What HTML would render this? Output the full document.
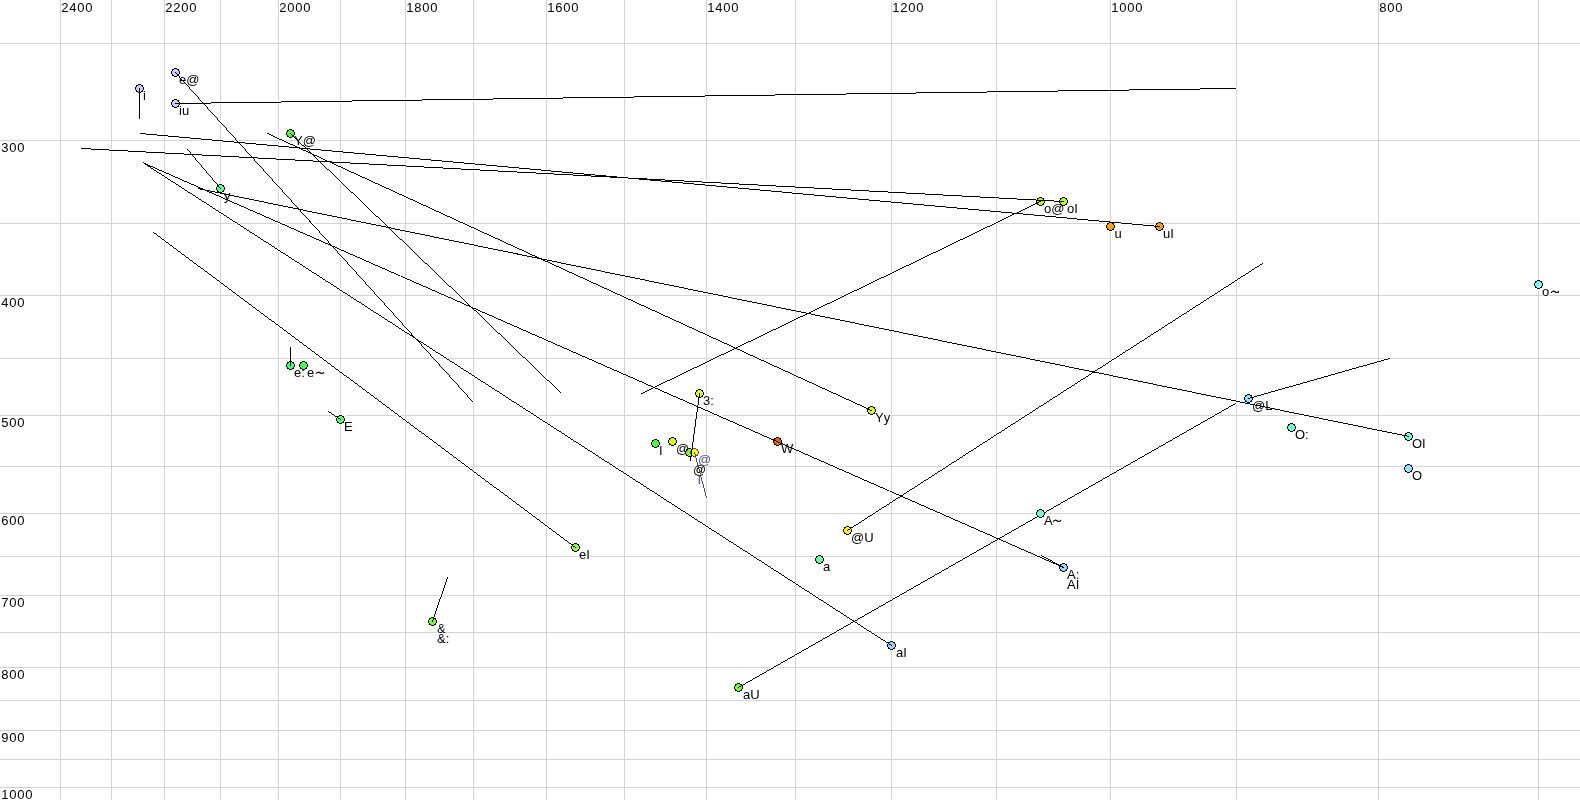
<!DOCTYPE html><html><head><meta charset="utf-8"><style>html,body{margin:0;padding:0;background:#fff;width:1580px;height:800px;overflow:hidden}svg{display:block}text{font-family:"Liberation Sans", sans-serif;font-size:13px}.ax{font-size:13px;letter-spacing:0.77px}.h text{fill:#fff;stroke:#fff;stroke-width:2px;stroke-linejoin:round}.lb{stroke-width:0px}</style></head><body>
<svg width="1580" height="800" viewBox="0 0 1580 800">
<rect width="1580" height="800" fill="#fff"/>
<defs><filter id="nof" x="0" y="0" width="1" height="1"><feOffset dx="0" dy="0"/></filter><path id="cf" d="M3 1h3v1h1v1h1v3h-1v1h-1v1h-3v-1h-1v-1h-1v-3h1v-1h1z"/><path id="co" d="M3 0h3v1h-3z M1 1h2v1h-2z M6 1h2v1h-2z M1 2h1v1h-1z M7 2h1v1h-1z M0 3h1v3h-1z M8 3h1v3h-1z M1 6h1v1h-1z M7 6h1v1h-1z M1 7h2v1h-2z M6 7h2v1h-2z M3 8h3v1h-3z"/></defs>
<g fill="#d3d3d3" shape-rendering="crispEdges">
<rect x="60" y="0" width="1" height="800"/>
<rect x="111" y="0" width="1" height="800"/>
<rect x="164" y="0" width="1" height="800"/>
<rect x="220" y="0" width="1" height="800"/>
<rect x="278" y="0" width="1" height="800"/>
<rect x="340" y="0" width="1" height="800"/>
<rect x="405" y="0" width="1" height="800"/>
<rect x="473" y="0" width="1" height="800"/>
<rect x="546" y="0" width="1" height="800"/>
<rect x="624" y="0" width="1" height="800"/>
<rect x="706" y="0" width="1" height="800"/>
<rect x="795" y="0" width="1" height="800"/>
<rect x="891" y="0" width="1" height="800"/>
<rect x="996" y="0" width="1" height="800"/>
<rect x="1110" y="0" width="1" height="800"/>
<rect x="1236" y="0" width="1" height="800"/>
<rect x="1378" y="0" width="1" height="800"/>
<rect x="1538" y="0" width="1" height="800"/>
<rect x="0" y="43" width="1580" height="1"/>
<rect x="0" y="140" width="1580" height="1"/>
<rect x="0" y="223" width="1580" height="1"/>
<rect x="0" y="295" width="1580" height="1"/>
<rect x="0" y="358" width="1580" height="1"/>
<rect x="0" y="415" width="1580" height="1"/>
<rect x="0" y="466" width="1580" height="1"/>
<rect x="0" y="513" width="1580" height="1"/>
<rect x="0" y="556" width="1580" height="1"/>
<rect x="0" y="595" width="1580" height="1"/>
<rect x="0" y="632" width="1580" height="1"/>
<rect x="0" y="667" width="1580" height="1"/>
<rect x="0" y="700" width="1580" height="1"/>
<rect x="0" y="730" width="1580" height="1"/>
<rect x="0" y="759" width="1580" height="1"/>
<rect x="0" y="787" width="1580" height="1"/>
</g>
<g class="h" filter="url(#nof)">
<g stroke="#fff" stroke-width="3" shape-rendering="crispEdges" stroke-linecap="square">
<line x1="139.5" y1="88.5" x2="139.5" y2="118.5" stroke="#fff" stroke-width="3" stroke-linecap="square"/>
<line x1="175.5" y1="72.5" x2="472.5" y2="401.5" stroke="#fff" stroke-width="3" stroke-linecap="square"/>
<line x1="175.5" y1="103.5" x2="1235.5" y2="88.5" stroke="#fff" stroke-width="3" stroke-linecap="square"/>
<line x1="140.5" y1="133.5" x2="1159.5" y2="226.5" stroke="#fff" stroke-width="3" stroke-linecap="square"/>
<line x1="81.5" y1="148.5" x2="1063.5" y2="201.5" stroke="#fff" stroke-width="3" stroke-linecap="square"/>
<line x1="187.5" y1="149.5" x2="220.5" y2="188.5" stroke="#fff" stroke-width="3" stroke-linecap="square"/>
<line x1="143.5" y1="163.0" x2="1063.5" y2="567.5" stroke="#fff" stroke-width="3" stroke-linecap="square"/>
<line x1="143.5" y1="163.0" x2="891.5" y2="645.5" stroke="#fff" stroke-width="3" stroke-linecap="square"/>
<line x1="198.5" y1="188.7" x2="1408.5" y2="436.4" stroke="#fff" stroke-width="3" stroke-linecap="square"/>
<line x1="153.5" y1="232.4" x2="575.5" y2="547.5" stroke="#fff" stroke-width="3" stroke-linecap="square"/>
<line x1="267.5" y1="133.5" x2="871.5" y2="410.5" stroke="#fff" stroke-width="3" stroke-linecap="square"/>
<line x1="290.5" y1="133.5" x2="560.5" y2="392.5" stroke="#fff" stroke-width="3" stroke-linecap="square"/>
<line x1="290.5" y1="365.5" x2="290.5" y2="347.5" stroke="#fff" stroke-width="3" stroke-linecap="square"/>
<line x1="340.5" y1="419.5" x2="328.5" y2="411.5" stroke="#fff" stroke-width="3" stroke-linecap="square"/>
<line x1="432.5" y1="621.5" x2="447.5" y2="577.5" stroke="#fff" stroke-width="3" stroke-linecap="square"/>
<line x1="699.5" y1="393.5" x2="690.5" y2="460.5" stroke="#fff" stroke-width="3" stroke-linecap="square"/>
<line x1="641.5" y1="393.5" x2="1040.5" y2="201.5" stroke="#fff" stroke-width="3" stroke-linecap="square"/>
<line x1="847.5" y1="530.5" x2="1262.5" y2="263.5" stroke="#fff" stroke-width="3" stroke-linecap="square"/>
<line x1="738.5" y1="687.5" x2="1235.5" y2="403.5" stroke="#fff" stroke-width="3" stroke-linecap="square"/>
<line x1="1248.5" y1="398.5" x2="1389.5" y2="358.5" stroke="#fff" stroke-width="3" stroke-linecap="square"/>
<line x1="1041.5" y1="555.5" x2="1063.5" y2="567.5" stroke="#fff" stroke-width="3" stroke-linecap="square"/>
<line x1="694.5" y1="452.5" x2="706.5" y2="497.5" stroke="#fff" stroke-width="3" stroke-linecap="square"/>
</g>
<g fill="#fff" shape-rendering="crispEdges">
<rect x="134" y="83" width="11" height="11" rx="3"/>
<rect x="170" y="67" width="11" height="11" rx="3"/>
<rect x="170" y="98" width="11" height="11" rx="3"/>
<rect x="285" y="128" width="11" height="11" rx="3"/>
<rect x="215" y="183" width="11" height="11" rx="3"/>
<rect x="285" y="360" width="11" height="11" rx="3"/>
<rect x="298" y="360" width="11" height="11" rx="3"/>
<rect x="335" y="414" width="11" height="11" rx="3"/>
<rect x="570" y="542" width="11" height="11" rx="3"/>
<rect x="427" y="616" width="11" height="11" rx="3"/>
<rect x="650" y="438" width="11" height="11" rx="3"/>
<rect x="667" y="436" width="11" height="11" rx="3"/>
<rect x="694" y="388" width="11" height="11" rx="3"/>
<rect x="772" y="436" width="11" height="11" rx="3"/>
<rect x="866" y="405" width="11" height="11" rx="3"/>
<rect x="842" y="525" width="11" height="11" rx="3"/>
<rect x="814" y="554" width="11" height="11" rx="3"/>
<rect x="886" y="640" width="11" height="11" rx="3"/>
<rect x="733" y="682" width="11" height="11" rx="3"/>
<rect x="1035" y="196" width="11" height="11" rx="3"/>
<rect x="1058" y="196" width="11" height="11" rx="3"/>
<rect x="1105" y="221" width="11" height="11" rx="3"/>
<rect x="1154" y="221" width="11" height="11" rx="3"/>
<rect x="1058" y="562" width="11" height="11" rx="3"/>
<rect x="1243" y="393" width="11" height="11" rx="3"/>
<rect x="1286" y="422" width="11" height="11" rx="3"/>
<rect x="1403" y="431" width="11" height="11" rx="3"/>
<rect x="1403" y="463" width="11" height="11" rx="3"/>
<rect x="1533" y="279" width="11" height="11" rx="3"/>
<rect x="684" y="447" width="11" height="11" rx="3"/>
<rect x="689" y="447" width="11" height="11" rx="3"/>
<rect x="1035" y="508" width="11" height="11" rx="3"/>
</g>
<text x="143.0" y="100">i</text>
<text x="179.0" y="84">e@</text>
<text x="179.0" y="115">iu</text>
<text x="294.0" y="145">Y@</text>
<text x="224.0" y="200">y</text>
<text x="294.0" y="377">e:</text>
<text x="307.0" y="377">e</text><path d="M316.40 373.50 C317.10 372.00 318.70 371.80 320.00 372.70 S322.80 374.20 323.70 372.30" fill="none" stroke="#fff" stroke-width="3.2" stroke-linecap="round"/>
<text x="344.0" y="431">E</text>
<text x="579.0" y="559">eI</text>
<text x="437.0" y="633">&amp;</text>
<text x="659.0" y="455">I</text>
<text x="676.0" y="453">@</text>
<text x="703.0" y="405">3:</text>
<text x="781.0" y="453">W</text>
<text x="875.0" y="422">Yy</text>
<text x="851.0" y="542">@U</text>
<text x="823.0" y="571">a</text>
<text x="896.0" y="657">aI</text>
<text x="743.0" y="699">aU</text>
<text x="1044.0" y="213">o@</text>
<text x="1067.0" y="213">oI</text>
<text x="1114.5" y="238">u</text>
<text x="1163.0" y="238">uI</text>
<text x="1067.0" y="579">A:</text>
<text x="1252.0" y="410">@L</text>
<text x="1295.0" y="439">O:</text>
<text x="1412.0" y="448">OI</text>
<text x="1412.0" y="480">O</text>
<text x="1542.0" y="296">o</text><path d="M1551.40 292.50 C1552.10 291.00 1553.70 290.80 1555.00 291.70 S1557.80 293.20 1558.70 291.30" fill="none" stroke="#fff" stroke-width="3.2" stroke-linecap="round"/>
<text x="693.0" y="474">@</text>
<text x="437.0" y="643">&amp;:</text>
<text x="1067.0" y="589">AI</text>
<text x="1044.0" y="525">A</text><path d="M1053.40 521.50 C1054.10 520.00 1055.70 519.80 1057.00 520.70 S1059.80 522.20 1060.70 520.30" fill="none" stroke="#fff" stroke-width="3.2" stroke-linecap="round"/>
<text x="698.0" y="464">@</text>
<text x="697.5" y="484">I</text>
</g>
<g shape-rendering="crispEdges">
<g transform="translate(135 84)"><use href="#cf" fill="#d2c8fa"/><use href="#co" fill="#000"/></g>
<g transform="translate(171 68)"><use href="#cf" fill="#d2c8fa"/><use href="#co" fill="#000"/></g>
<g transform="translate(171 99)"><use href="#cf" fill="#d2c8fa"/><use href="#co" fill="#000"/></g>
<g transform="translate(286 129)"><use href="#cf" fill="#50ff3c"/><use href="#co" fill="#000"/></g>
<g transform="translate(216 184)"><use href="#cf" fill="#5cff98"/><use href="#co" fill="#000"/></g>
<g transform="translate(286 361)"><use href="#cf" fill="#50fa78"/><use href="#co" fill="#000"/></g>
<g transform="translate(299 361)"><use href="#cf" fill="#46ff55"/><use href="#co" fill="#000"/></g>
<g transform="translate(336 415)"><use href="#cf" fill="#55ff73"/><use href="#co" fill="#000"/></g>
<g transform="translate(571 543)"><use href="#cf" fill="#94ff28"/><use href="#co" fill="#000"/></g>
<g transform="translate(428 617)"><use href="#cf" fill="#7dff2d"/><use href="#co" fill="#000"/></g>
<g transform="translate(651 439)"><use href="#cf" fill="#4bff41"/><use href="#co" fill="#000"/></g>
<g transform="translate(668 437)"><use href="#cf" fill="#d2ff14"/><use href="#co" fill="#000"/></g>
<g transform="translate(695 389)"><use href="#cf" fill="#ebff0a"/><use href="#co" fill="#000"/></g>
<g transform="translate(773 437)"><use href="#cf" fill="#e46600"/><use href="#co" fill="#000"/></g>
<g transform="translate(867 406)"><use href="#cf" fill="#d4ff14"/><use href="#co" fill="#000"/></g>
<g transform="translate(843 526)"><use href="#cf" fill="#fffa00"/><use href="#co" fill="#000"/></g>
<g transform="translate(815 555)"><use href="#cf" fill="#62ffa0"/><use href="#co" fill="#000"/></g>
<g transform="translate(887 641)"><use href="#cf" fill="#9bcdff"/><use href="#co" fill="#000"/></g>
<g transform="translate(734 683)"><use href="#cf" fill="#6cff32"/><use href="#co" fill="#000"/></g>
<g transform="translate(1036 197)"><use href="#cf" fill="#b4ff19"/><use href="#co" fill="#000"/></g>
<g transform="translate(1059 197)"><use href="#cf" fill="#b4ff19"/><use href="#co" fill="#000"/></g>
<g transform="translate(1106 222)"><use href="#cf" fill="#f5a500"/><use href="#co" fill="#000"/></g>
<g transform="translate(1155 222)"><use href="#cf" fill="#f5a500"/><use href="#co" fill="#000"/></g>
<g transform="translate(1059 563)"><use href="#cf" fill="#96d7ff"/><use href="#co" fill="#000"/></g>
<g transform="translate(1244 394)"><use href="#cf" fill="#91dcff"/><use href="#co" fill="#000"/></g>
<g transform="translate(1287 423)"><use href="#cf" fill="#6effd7"/><use href="#co" fill="#000"/></g>
<g transform="translate(1404 432)"><use href="#cf" fill="#73ffe1"/><use href="#co" fill="#000"/></g>
<g transform="translate(1404 464)"><use href="#cf" fill="#8ce6ff"/><use href="#co" fill="#000"/></g>
<g transform="translate(1534 280)"><use href="#cf" fill="#80faff"/><use href="#co" fill="#000"/></g>
<g transform="translate(685 448)"><use href="#cf" fill="#7dff2d"/><use href="#co" fill="#000"/></g>
<g transform="translate(690 448)"><use href="#cf" fill="#ffff00"/><use href="#co" fill="#55557f"/></g>
<path d="M139.000 88.000 L139.000 119.000 L140.000 119.000 L140.000 88.000Z" fill="#000"/>
<path d="M174.549 72.000 L472.451 402.000 L473.451 402.000 L175.549 72.000Z" fill="#000"/>
<path d="M175.000 103.007 L1236.000 87.993 L1236.000 88.993 L175.000 104.007Z" fill="#000"/>
<path d="M140.000 132.954 L1160.000 226.046 L1160.000 227.046 L140.000 133.954Z" fill="#000"/>
<path d="M81.000 147.973 L1064.000 201.027 L1064.000 202.027 L81.000 148.973Z" fill="#000"/>
<path d="M186.577 149.000 L220.423 189.000 L221.423 189.000 L187.577 149.000Z" fill="#000"/>
<path d="M143.000 162.280 L1064.000 567.220 L1064.000 568.220 L143.000 163.280Z" fill="#000"/>
<path d="M143.000 162.177 L892.000 645.323 L892.000 646.323 L143.000 163.177Z" fill="#000"/>
<path d="M198.000 188.098 L1409.000 436.002 L1409.000 437.002 L198.000 189.098Z" fill="#000"/>
<path d="M153.000 231.527 L576.000 547.373 L576.000 548.373 L153.000 232.527Z" fill="#000"/>
<path d="M267.000 132.771 L872.000 410.229 L872.000 411.229 L267.000 133.771Z" fill="#000"/>
<path d="M290.000 132.520 L561.000 392.480 L561.000 393.480 L290.000 133.520Z" fill="#000"/>
<path d="M290.000 347.000 L290.000 366.000 L291.000 366.000 L291.000 347.000Z" fill="#000"/>
<path d="M328.000 410.667 L341.000 419.333 L341.000 420.333 L328.000 411.667Z" fill="#000"/>
<path d="M447.170 577.000 L431.830 622.000 L432.830 622.000 L448.170 577.000Z" fill="#000"/>
<path d="M699.067 393.000 L689.933 461.000 L690.933 461.000 L700.067 393.000Z" fill="#000"/>
<path d="M641.000 393.241 L1041.000 200.759 L1041.000 201.759 L641.000 394.241Z" fill="#000"/>
<path d="M847.000 530.322 L1263.000 262.678 L1263.000 263.678 L847.000 531.322Z" fill="#000"/>
<path d="M738.000 687.286 L1236.000 402.714 L1236.000 403.714 L738.000 688.286Z" fill="#000"/>
<path d="M1248.000 398.142 L1390.000 357.858 L1390.000 358.858 L1248.000 399.142Z" fill="#000"/>
<path d="M1041.000 554.727 L1064.000 567.273 L1064.000 568.273 L1041.000 555.727Z" fill="#000"/>
<path d="M693.867 452.000 L706.133 498.000 L707.133 498.000 L694.867 452.000Z" fill="#505050"/>
<g transform="translate(1036 509)"><use href="#cf" fill="#69ffd2"/><use href="#co" fill="#000"/></g>
</g>
<g filter="url(#nof)">
<text class="ax" x="61.2" y="12">2400</text>
<text class="ax" x="165.2" y="12">2200</text>
<text class="ax" x="279.2" y="12">2000</text>
<text class="ax" x="406.2" y="12">1800</text>
<text class="ax" x="547.2" y="12">1600</text>
<text class="ax" x="707.2" y="12">1400</text>
<text class="ax" x="892.2" y="12">1200</text>
<text class="ax" x="1111.2" y="12">1000</text>
<text class="ax" x="1379.2" y="12">800</text>
<text class="ax" x="1.2" y="152">300</text>
<text class="ax" x="1.2" y="307">400</text>
<text class="ax" x="1.2" y="427">500</text>
<text class="ax" x="1.2" y="525">600</text>
<text class="ax" x="1.2" y="607">700</text>
<text class="ax" x="1.2" y="679">800</text>
<text class="ax" x="1.2" y="742">900</text>
<text class="ax" x="1.2" y="799">1000</text>
<text class="lb" x="143.0" y="100" fill="#000">i</text>
<text class="lb" x="179.0" y="84" fill="#000">e@</text>
<text class="lb" x="179.0" y="115" fill="#000">iu</text>
<text class="lb" x="294.0" y="145" fill="#000">Y@</text>
<text class="lb" x="224.0" y="200" fill="#000">y</text>
<text class="lb" x="294.0" y="377" fill="#000">e:</text>
<text class="lb" x="307.0" y="377" fill="#000">e</text><path d="M316.40 373.50 C317.10 372.00 318.70 371.80 320.00 372.70 S322.80 374.20 323.70 372.30" fill="none" stroke="#000" stroke-width="1.1" stroke-linecap="round"/>
<text class="lb" x="344.0" y="431" fill="#000">E</text>
<text class="lb" x="579.0" y="559" fill="#000">eI</text>
<text class="lb" x="437.0" y="633" fill="#000">&amp;</text>
<text class="lb" x="659.0" y="455" fill="#000">I</text>
<text class="lb" x="676.0" y="453" fill="#000">@</text>
<text class="lb" x="703.0" y="405" fill="#000">3:</text>
<text class="lb" x="781.0" y="453" fill="#000">W</text>
<text class="lb" x="875.0" y="422" fill="#000">Yy</text>
<text class="lb" x="851.0" y="542" fill="#000">@U</text>
<text class="lb" x="823.0" y="571" fill="#000">a</text>
<text class="lb" x="896.0" y="657" fill="#000">aI</text>
<text class="lb" x="743.0" y="699" fill="#000">aU</text>
<text class="lb" x="1044.0" y="213" fill="#000">o@</text>
<text class="lb" x="1067.0" y="213" fill="#000">oI</text>
<text class="lb" x="1114.5" y="238" fill="#000">u</text>
<text class="lb" x="1163.0" y="238" fill="#000">uI</text>
<text class="lb" x="1067.0" y="579" fill="#000">A:</text>
<text class="lb" x="1252.0" y="410" fill="#000">@L</text>
<text class="lb" x="1295.0" y="439" fill="#000">O:</text>
<text class="lb" x="1412.0" y="448" fill="#000">OI</text>
<text class="lb" x="1412.0" y="480" fill="#000">O</text>
<text class="lb" x="1542.0" y="296" fill="#000">o</text><path d="M1551.40 292.50 C1552.10 291.00 1553.70 290.80 1555.00 291.70 S1557.80 293.20 1558.70 291.30" fill="none" stroke="#000" stroke-width="1.1" stroke-linecap="round"/>
<text class="lb" x="693.0" y="474" fill="#000">@</text>
<text class="lb" x="437.0" y="643" fill="#000">&amp;:</text>
<text class="lb" x="1067.0" y="589" fill="#000">AI</text>
<text class="lb" x="1044.0" y="525" fill="#000">A</text><path d="M1053.40 521.50 C1054.10 520.00 1055.70 519.80 1057.00 520.70 S1059.80 522.20 1060.70 520.30" fill="none" stroke="#000" stroke-width="1.1" stroke-linecap="round"/>
<text class="lb" x="698.0" y="464" fill="#50508a">@</text>
<text class="lb" x="697.5" y="484" fill="#50508a">I</text>
</g>
</svg></body></html>
